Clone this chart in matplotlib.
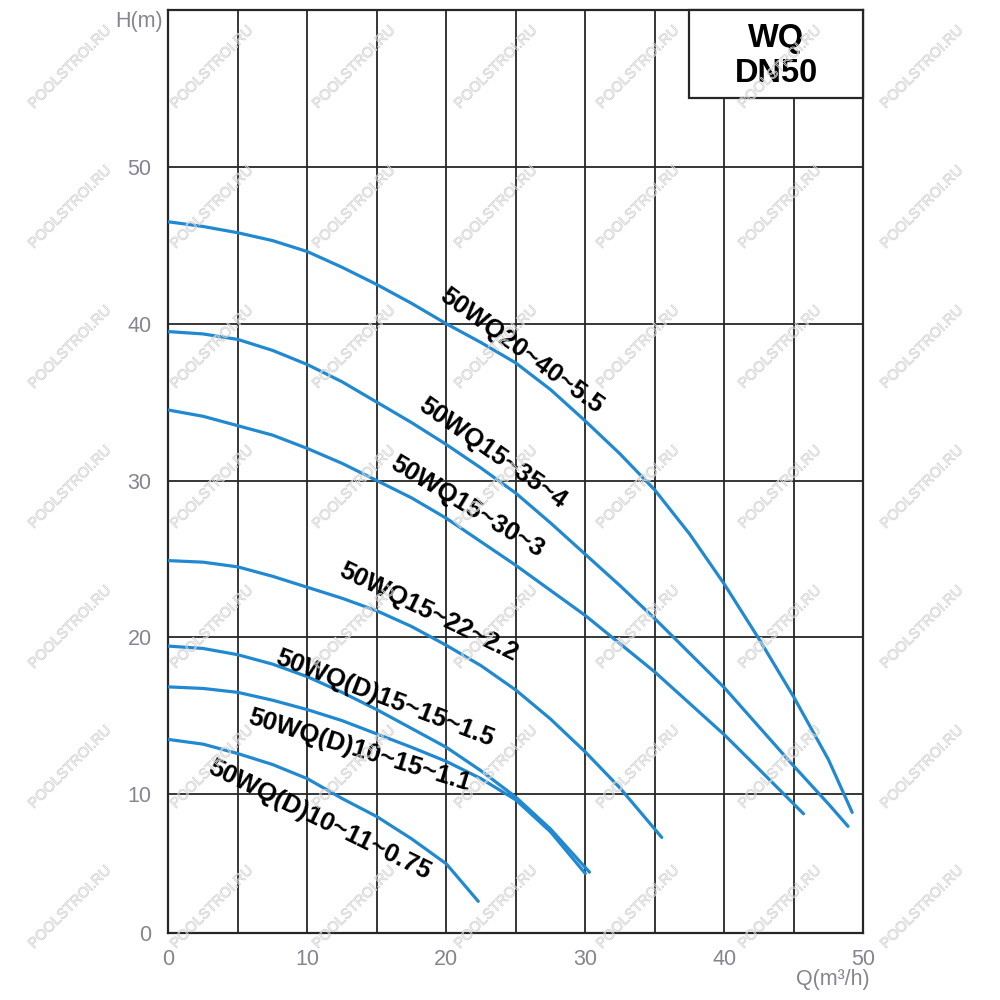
import numpy as np
import matplotlib
matplotlib.use("Agg")
import matplotlib.pyplot as plt
import matplotlib.patheffects as pe
from matplotlib.patches import Rectangle

plt.rcParams['font.family'] = ['Liberation Sans', 'DejaVu Sans']

# ---- data (Q in m3/h, H in m) ----
q_a = [0, 2.5, 5, 7.5, 10, 12.5, 15, 17.5, 20, 22.5, 25, 27.5, 30, 32.5, 35, 37.5, 40, 42.5, 45, 47.5, 49.2]
h_a = [46.5, 46.2, 45.8, 45.3, 44.6, 43.6, 42.5, 41.3, 40.0, 38.8, 37.5, 35.8, 33.8, 31.7, 29.4, 26.6, 23.4, 19.9, 16.2, 12.2, 8.7]

q_b = [0, 2.5, 5, 7.5, 10, 12.5, 15, 17.5, 20, 22.5, 25, 27.5, 30, 32.5, 35, 37.5, 40, 42.5, 45, 47.5, 48.9]
h_b = [39.5, 39.35, 39.0, 38.3, 37.4, 36.3, 35.0, 33.7, 32.3, 30.8, 29.2, 27.3, 25.3, 23.3, 21.2, 19.0, 16.8, 14.3, 11.8, 9.3, 7.7]

q_c = [0, 2.5, 5, 7.5, 10, 12.5, 15, 17.5, 20, 22.5, 25, 27.5, 30, 32.5, 35, 37.5, 40, 42.5, 45, 45.7]
h_c = [34.5, 34.1, 33.5, 32.9, 32.05, 31.1, 30.0, 28.9, 27.6, 26.1, 24.6, 23.0, 21.4, 19.6, 17.8, 15.8, 13.8, 11.6, 9.3, 8.6]

q_d = [0, 2.5, 5, 7.5, 10, 12.5, 15, 17.5, 20, 22.5, 25, 27.5, 30, 32.5, 35.5]
h_d = [24.9, 24.8, 24.5, 23.9, 23.2, 22.5, 21.7, 20.7, 19.5, 18.2, 16.65, 14.8, 12.7, 10.4, 6.9]

q_e = [0, 2.5, 5, 7.5, 10, 12.5, 15, 17.5, 20, 22.5, 25, 27.5, 30.3]
h_e = [19.45, 19.3, 18.9, 18.3, 17.5, 16.5, 15.4, 14.2, 13.0, 11.5, 9.8, 7.5, 4.4]

q_f = [0, 2.5, 5, 7.5, 10, 12.5, 15, 17.5, 20, 22.5, 25, 27.5, 30]
h_f = [16.85, 16.75, 16.5, 16.0, 15.4, 14.7, 13.85, 13.0, 12.1, 11.0, 9.6, 7.3, 4.3]

q_g = [0, 2.5, 5, 7.5, 10, 12.5, 15, 17.5, 20, 22.3]
h_g = [13.5, 13.2, 12.6, 11.9, 11.0, 9.7, 8.4, 6.8, 5.0, 2.3]

series_q = [q_a, q_b, q_c, q_d, q_e, q_f, q_g]
series_h = [h_a, h_b, h_c, h_d, h_e, h_f, h_g]
series_names = ["50WQ20~40~5.5", "50WQ15~35~4", "50WQ15~30~3", "50WQ15~22~2.2",
                "50WQ(D)15~15~1.5", "50WQ(D)10~15~1.1", "50WQ(D)10~11~0.75"]

x_ticks = [0, 10, 20, 30, 40, 50]
y_ticks = [0, 10, 20, 30, 40, 50]

# label anchor (data coords) and rotation
label_pos = [(25.4, 38.25), (23.3, 31.75), (21.5, 28.31), (18.7, 21.62),
             (15.59, 16.14), (13.78, 12.82), (10.9, 8.15)]
label_rot = [-36, -35, -31, -26, -21, -17, -26]

# ---- figure ----
fig = plt.figure(figsize=(10, 10), dpi=100)
ax = fig.add_axes([0.1683, 0.0667, 0.695, 0.9233])

a = 139.0 / 156.9
def fwd(y):
    y = np.asarray(y, float)
    return np.where(y < 10, y * a, y - 10 + 10 * a)
def inv(v):
    v = np.asarray(v, float)
    return np.where(v < 10 * a, v / a, v - 10 * a + 10)
ax.set_yscale('function', functions=(fwd, inv))

ax.set_xlim(0, 50)
ax.set_ylim(0, 60)

line_color = '#2189cf'
for q, h in zip(series_q, series_h):
    ax.plot(q, h, color=line_color, lw=2.3, solid_capstyle='round',
            solid_joinstyle='round', zorder=3)

for name, (lx, ly), rot in zip(series_names, label_pos, label_rot):
    ax.text(lx, ly, name, rotation=rot, rotation_mode='anchor', ha='center', va='center',
            fontsize=18.5, fontweight='bold', color='black', zorder=4)

ax.set_xticks(x_ticks)
ax.set_xticks([5, 15, 25, 35, 45], minor=True)
ax.set_yticks(y_ticks + [60])
ax.set_yticklabels([str(v) for v in y_ticks] + [''])
ax.set_xticklabels([str(v) for v in x_ticks])
ax.yaxis.set_minor_locator(matplotlib.ticker.NullLocator())
ax.tick_params(axis='both', which='both', length=0, labelsize=15.5, labelcolor='#858590')
ax.tick_params(axis='x', pad=11)
ax.tick_params(axis='y', pad=12)
ax.grid(True, which='both', color='#262626', lw=1.3, zorder=1)
ax.set_axisbelow(True)
for s in ax.spines.values():
    s.set_color('#262626')
    s.set_linewidth(1.6)

# title box
ax.add_patch(Rectangle((0.7496, 0.9044), 0.2504, 0.0956, transform=ax.transAxes,
                       facecolor='white', edgecolor='#262626', lw=1.6, zorder=5, clip_on=False))
ax.text(0.8744, 0.9690, "WQ", transform=ax.transAxes, ha='center', va='center',
        fontsize=23.5, fontweight='bold', zorder=6)
ax.text(0.8744, 0.9310, "DN50", transform=ax.transAxes, ha='center', va='center',
        fontsize=23.5, fontweight='bold', zorder=6)

# axis labels
fig.text(0.163, 0.978, "H(m)", ha='right', va='center', fontsize=15.5, color='#858590')
fig.text(0.833, 0.020, "Q(m³/h)", ha='center', va='center', fontsize=15.5, color='#858590')

# watermarks
for i in range(7):
    for j in range(7):
        px = 70 + 142 * i
        py = 67 + 140 * j
        fig.text(px / 1000, 1 - py / 1000, "POOLSTROI.RU", ha='center', va='center',
                 rotation=45, fontsize=10.5, color=(1, 1, 1, 0), zorder=10,
                 path_effects=[pe.Stroke(linewidth=0.6, foreground='#d4d4d4')])

fig.savefig("out.png", dpi=100)
